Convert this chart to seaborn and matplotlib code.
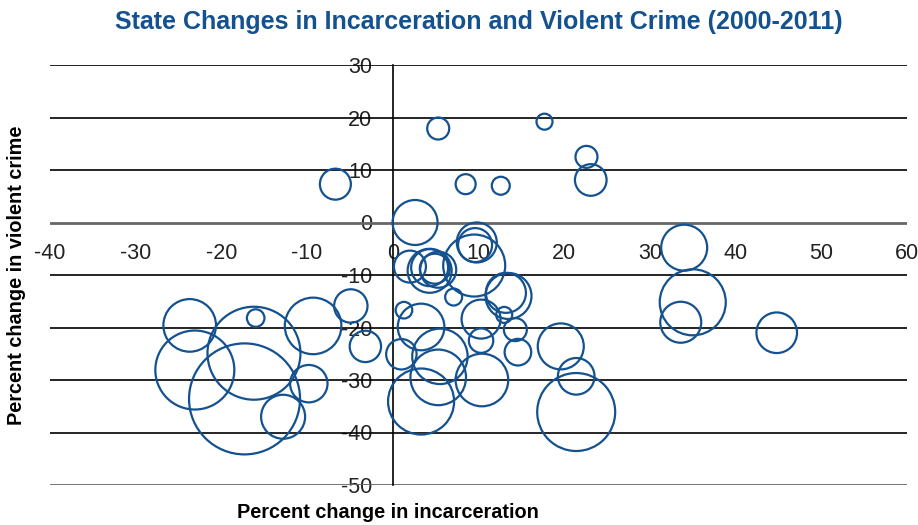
import matplotlib
matplotlib.use("Agg")
import matplotlib.pyplot as plt
import seaborn as sns
import pandas as pd

# ---- data ----
incarceration_change = [5.3, -6.7, 2.6, 17.7, 22.6, 23.1, 8.5, 12.6, 34.0, 35.0,
                        33.6, 44.8, 9.8, 9.6, 9.5, 2.0, 4.3, 4.3, 4.9, 5.3,
                        7.1, 13.5, 13.2, 10.3, 13.0, 14.3, 10.3, 14.6, 10.4, 19.6,
                        21.4, 21.4, -23.7, -23.1, -16.2, -16.0, -17.3, -9.3, -4.9, -3.2,
                        -9.8, -12.8, 1.3, 3.3, 1.0, 5.5, 5.3, 3.3]
violent_crime_change = [17.9, 7.3, 0.0, 19.2, 12.5, 8.1, 7.3, 7.0, -4.8, -15.2,
                        -19.0, -21.0, -3.8, -4.3, -8.2, -8.4, -9.2, -8.6, -8.8, -9.0,
                        -14.2, -14.0, -13.4, -18.4, -17.6, -20.4, -22.5, -24.7, -30.0, -23.6,
                        -29.3, -36.1, -19.6, -28.1, -24.9, -18.2, -33.6, -19.7, -15.9, -23.6,
                        -30.7, -37.0, -16.7, -19.9, -25.1, -25.5, -29.5, -34.1]
bubble_size = [1.21, 2.40, 5.06, 0.64, 1.21, 2.50, 1.00, 0.81, 5.29, 10.9,
               4.20, 4.12, 4.00, 2.89, 9.61, 2.56, 4.84, 3.42, 2.25, 3.24,
               0.72, 5.29, 4.00, 3.80, 0.64, 1.32, 1.49, 1.77, 6.92, 5.29,
               3.35, 15.2, 6.92, 15.6, 21.6, 0.77, 30.8, 8.00, 2.79, 2.46,
               3.50, 4.84, 0.69, 5.43, 2.31, 7.67, 7.73, 10.9]
x_ticks = [-40, -30, -20, -10, 0, 10, 20, 30, 40, 50, 60]
y_ticks = [-50, -40, -30, -20, -10, 0, 10, 20, 30]

df = pd.DataFrame({"incarceration": incarceration_change,
                   "crime": violent_crime_change,
                   "size": bubble_size})

# ---- style ----
sns.set_style("white")
FONT = ["Liberation Sans Narrow", "Liberation Sans", "DejaVu Sans"]
plt.rcParams["font.family"] = FONT
plt.rcParams["axes.unicode_minus"] = False
BLUE = "#14518f"
TICK_FS = 15.5

fig = plt.figure(figsize=(9.18, 5.25), dpi=100)
ax = fig.add_axes([50 / 918, 1 - 485 / 525, 857 / 918, 420 / 525])

vmax = max(bubble_size)
sns.scatterplot(data=df, x="incarceration", y="crime", size="size",
                sizes=(0, 207.36 * vmax), size_norm=(0, vmax),
                facecolor="none", edgecolor=BLUE, linewidth=1.6,
                legend=False, ax=ax, zorder=5)
for coll in ax.collections:
    coll.set_facecolor("none")
    coll.set_edgecolor(BLUE)

ax.set_xlim(-40, 60)
ax.set_ylim(-50, 30)
ax.set_xticks(x_ticks)
ax.set_yticks(y_ticks)

# gridlines
for yv in y_ticks:
    if yv in (0, -50):
        ax.axhline(yv, color="#666666", lw=2.0, zorder=2)
    else:
        ax.axhline(yv, color="black", lw=1.2, zorder=2)

for s in ["top", "right", "bottom"]:
    ax.spines[s].set_visible(False)
ax.spines["left"].set_position(("data", 0))
ax.spines["left"].set_color("black")
ax.spines["left"].set_linewidth(1.2)
ax.spines["left"].set_zorder(3)

ax.tick_params(axis="both", length=0, labelsize=TICK_FS, colors="#222222")
ax.tick_params(axis="y", pad=15)
# x tick labels sit along the y = 0 axis
ax.set_xticklabels([])
for xv in x_ticks:
    ax.text(xv, -3.9, str(xv), ha="center", va="top",
            fontsize=TICK_FS, color="#222222", zorder=1)

ax.set_xlabel("")
ax.set_ylabel("")

fig.text(479 / 918, 1 - 22 / 525, "State Changes in Incarceration and Violent Crime (2000-2011)",
         ha="center", va="center", fontsize=18, fontweight="bold", color=BLUE)
fig.text(388 / 918, 1 - 513 / 525, "Percent change in incarceration",
         ha="center", va="center", fontsize=14.3, fontweight="bold", color="black")
fig.text(17 / 918, 1 - 275 / 525, "Percent change in violent crime",
         ha="center", va="center", rotation=90, fontsize=14.3, fontweight="bold", color="black")

fig.savefig("out.png", dpi=100)
